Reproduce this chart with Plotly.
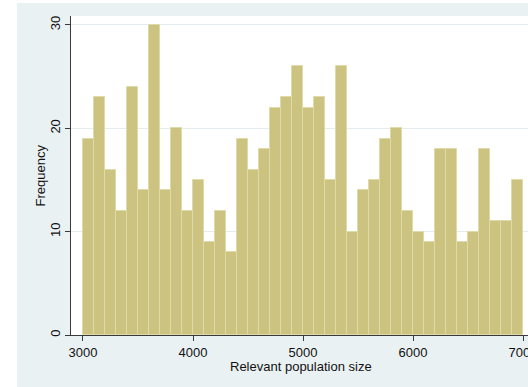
"""Histogram of relevant population size (Stata s2color look)"""

import plotly.graph_objects as go

# bin layout and counts
bin_start = 3000
bin_width = 100
frequencies = [19, 23, 16, 12, 24, 14, 30, 14, 20, 12,
               15, 9, 12, 8, 19, 16, 18, 22, 23, 26,
               22, 23, 15, 26, 10, 14, 15, 19, 20, 12,
               10, 9, 18, 18, 9, 10, 18, 11, 11, 15]
x_ticks = [3000, 4000, 5000, 6000, 7000]
y_ticks = [0, 10, 20, 30]

bin_centers = [bin_start + bin_width * (i + 0.5) for i in range(len(frequencies))]

region_color = "#EAF1F3"
bar_fill = "#CBC37F"
bar_line = "#DEDAAA"
axis_color = "#3A3A3A"
font_family = "Liberation Sans, Arial, sans-serif"

bars = go.Bar(
    x=bin_centers,
    y=frequencies,
    width=bin_width,
    marker={"color": bar_fill, "line": {"color": bar_line, "width": 1}},
    showlegend=False,
)

figure = go.Figure()
figure.add_trace(bars)

plot_layout = {
    "width": 528,
    "height": 387,
    "margin": {"l": 71, "r": 0, "t": 16, "b": 52, "autoexpand": False},
    "paper_bgcolor": region_color,
    "plot_bgcolor": "white",
    "font": {"family": font_family, "size": 13, "color": "#111111"},
    "bargap": 0,
    "xaxis": {
        "range": [2891, 7045],
        "tickvals": x_ticks,
        "ticks": "outside",
        "ticklen": 5,
        "tickcolor": axis_color,
        "ticklabeloverflow": "allow",
        "automargin": False,
        "showline": True,
        "linecolor": axis_color,
        "linewidth": 1,
        "showgrid": False,
        "zeroline": False,
        "tickfont": {"size": 13},
    },
    "yaxis": {
        "range": [0, 30.87],
        "tickvals": y_ticks,
        "tickangle": -90,
        "ticks": "outside",
        "ticklen": 5,
        "tickcolor": axis_color,
        "automargin": False,
        "showline": True,
        "linecolor": axis_color,
        "linewidth": 1,
        "showgrid": True,
        "gridcolor": "#E3ECEF",
        "gridwidth": 1,
        "zeroline": False,
        "tickfont": {"size": 13},
    },
    "annotations": [
        {"text": "Relevant population size", "xref": "paper", "yref": "paper",
         "x": (301 - 71) / 457, "y": (335 - 366) / 319, "showarrow": False,
         "xanchor": "center", "yanchor": "middle", "font": {"size": 13}},
        {"text": "Frequency", "xref": "paper", "yref": "paper",
         "x": (40 - 71) / 457, "y": 0.5, "textangle": -90, "showarrow": False,
         "xanchor": "center", "yanchor": "middle", "font": {"size": 13}},
    ],
    "shapes": [
        # white page strips left and above the graph region
        {"type": "rect", "xref": "paper", "yref": "paper", "layer": "below",
         "x0": -0.2, "x1": (17 - 71) / 457, "y0": -0.2, "y1": 1.1,
         "fillcolor": "white", "line": {"width": 0}},
        {"type": "rect", "xref": "paper", "yref": "paper", "layer": "below",
         "x0": -0.2, "x1": 1.1, "y0": (335 - 3) / 319, "y1": 1.1,
         "fillcolor": "white", "line": {"width": 0}},
    ],
}

figure.update_layout(plot_layout)
# drop the browser's default body margin so the figure sits at the page corner
figure.write_html(
    "out.html",
    config={"displayModeBar": False},
    post_script="document.body.style.margin = '0';",
)
